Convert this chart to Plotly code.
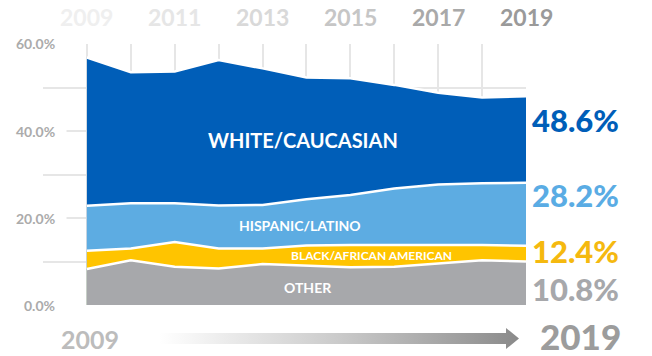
import plotly.graph_objects as go

W, H = 652, 356

years = list(range(2009, 2020))
white = [56.9, 53.5, 53.7, 56.3, 54.4, 52.3, 52.1, 50.6, 48.8, 47.7, 48.0]
hispanic = [22.8, 23.4, 23.4, 22.9, 23.0, 24.3, 25.3, 26.8, 27.7, 28.0, 28.1]
black = [12.5, 13.0, 14.5, 13.0, 13.0, 13.7, 13.8, 13.8, 13.8, 13.8, 13.6]
other = [8.3, 10.3, 8.8, 8.4, 9.4, 9.0, 8.7, 8.8, 9.6, 10.3, 10.0]

series_names = ["WHITE/CAUCASIAN", "HISPANIC/LATINO", "BLACK/AFRICAN AMERICAN", "OTHER"]
series_vals = [white, hispanic, black, other]
series_colors = ["#005EB8", "#5DACE2", "#FFC400", "#A7A8AB"]
final_labels = ["48.6%", "28.2%", "12.4%", "10.8%"]
final_colors = ["#005EB8", "#5AACE4", "#F5B90F", "#A7A8AB"]

top_years = [2009, 2011, 2013, 2015, 2017, 2019]
top_colors = ["#efefef", "#e6e6e6", "#d9d9d9", "#c6c6c6", "#a9a9a9", "#9a9a9a"]

ytick_vals = [0, 20, 40, 60]
ytick_text = ["0.0%", "20.0%", "40.0%", "60.0%"]

FONT = "Lato"

# plot area in pixels
PX0, PX1, PY0, PY1 = 43, 526, 44, 305

fig = go.Figure()

for name, vals, col in zip(series_names, series_vals, series_colors):
    fig.add_trace(go.Scatter(
        x=years, y=vals, name=name, mode="lines",
        line=dict(color="white", width=2.5),
        fill="tozeroy", fillcolor=col, hoverinfo="skip",
        xaxis="x", yaxis="y",
    ))

# decorative gradient arrow on a pixel-space overlay axis
arrow_x = [160, 506, 506, 519, 506, 506, 160, 160]
arrow_y = [333, 333, 328, 338.5, 349, 344, 344, 333]
fig.add_trace(go.Scatter(
    x=arrow_x, y=arrow_y, mode="lines", line=dict(width=0),
    fill="toself",
    fillgradient=dict(type="horizontal",
                      colorscale=[[0, "#ffffff"], [0.5, "#cacaca"], [1, "#8a8a8a"]]),
    hoverinfo="skip", xaxis="x2", yaxis="y2",
))

fig.update_layout(
    width=W, height=H,
    margin=dict(l=0, r=0, t=0, b=0),
    paper_bgcolor="white", plot_bgcolor="rgba(0,0,0,0)",
    showlegend=False,
    xaxis=dict(domain=[PX0 / W, PX1 / W], range=[2008, 2019],
               tickvals=years, showticklabels=False, ticks="",
               showgrid=True, gridcolor="#e6e6e6", gridwidth=1.5,
               zeroline=False, showline=False),
    yaxis=dict(domain=[1 - PY1 / H, 1 - PY0 / H], range=[0, 60],
               tickvals=[0, 10, 20, 30, 40, 50, 60], showticklabels=False, ticks="",
               showgrid=True, gridcolor="#e6e6e6", gridwidth=1.5,
               zeroline=False, showline=False),
    xaxis2=dict(domain=[0, 1], range=[0, W], visible=False, anchor="y2"),
    yaxis2=dict(domain=[0, 1], range=[H, 0], visible=False, anchor="x2"),
)

ann = []
# y-axis labels (white background masks the grid like the reference)
for v, t in zip(ytick_vals, ytick_text):
    ann.append(dict(xref="paper", yref="y", x=67 / W, y=v, xanchor="right", yanchor="middle",
                    text=t + "\u00a0\u00a0\u00a0", showarrow=False, bgcolor="white", borderpad=1,
                    font=dict(family=FONT, size=14, color="#ababab", weight="bold")))

# top year labels
for yr, c in zip(top_years, top_colors):
    ann.append(dict(xref="x", yref="paper", x=yr, y=1 - 17.5 / H, xanchor="center", yanchor="middle",
                    text=str(yr), showarrow=False,
                    font=dict(family=FONT, size=23, color=c, weight="bold")))

# in-area labels
inner = [("WHITE/CAUCASIAN", 2013.92, 38.0, 20),
         ("HISPANIC/LATINO", 2013.85, 18.2, 14),
         ("BLACK/AFRICAN AMERICAN", 2015.49, 11.3, 12),
         ("OTHER", 2014.03, 4.1, 14)]
for t, x, y, s in inner:
    ann.append(dict(xref="x", yref="y", x=x, y=y, text=t, showarrow=False,
                    xanchor="center", yanchor="middle",
                    font=dict(family=FONT, size=s, color="white", weight="bold")))

# right-side final values
right_y = [120, 195, 250.5, 288.5]
for t, c, py in zip(final_labels, final_colors, right_y):
    ann.append(dict(xref="paper", yref="paper", x=531 / W, y=1 - py / H, xanchor="left", yanchor="middle",
                    text=t, showarrow=False, borderpad=0,
                    font=dict(family=FONT, size=31, color=c, weight=900)))

# bottom labels
ann.append(dict(xref="paper", yref="paper", x=90 / W, y=1 - 339 / H, xanchor="center", yanchor="middle",
                text="2009", showarrow=False,
                font=dict(family=FONT, size=25, color="#bcbcbc", weight="bold")))
ann.append(dict(xref="paper", yref="paper", x=580 / W, y=1 - 336 / H, xanchor="center", yanchor="middle",
                text="2019", showarrow=False,
                font=dict(family=FONT, size=35, color="#9c9c9c", weight=900)))

fig.update_layout(annotations=ann)

fig.write_html("out.html")
